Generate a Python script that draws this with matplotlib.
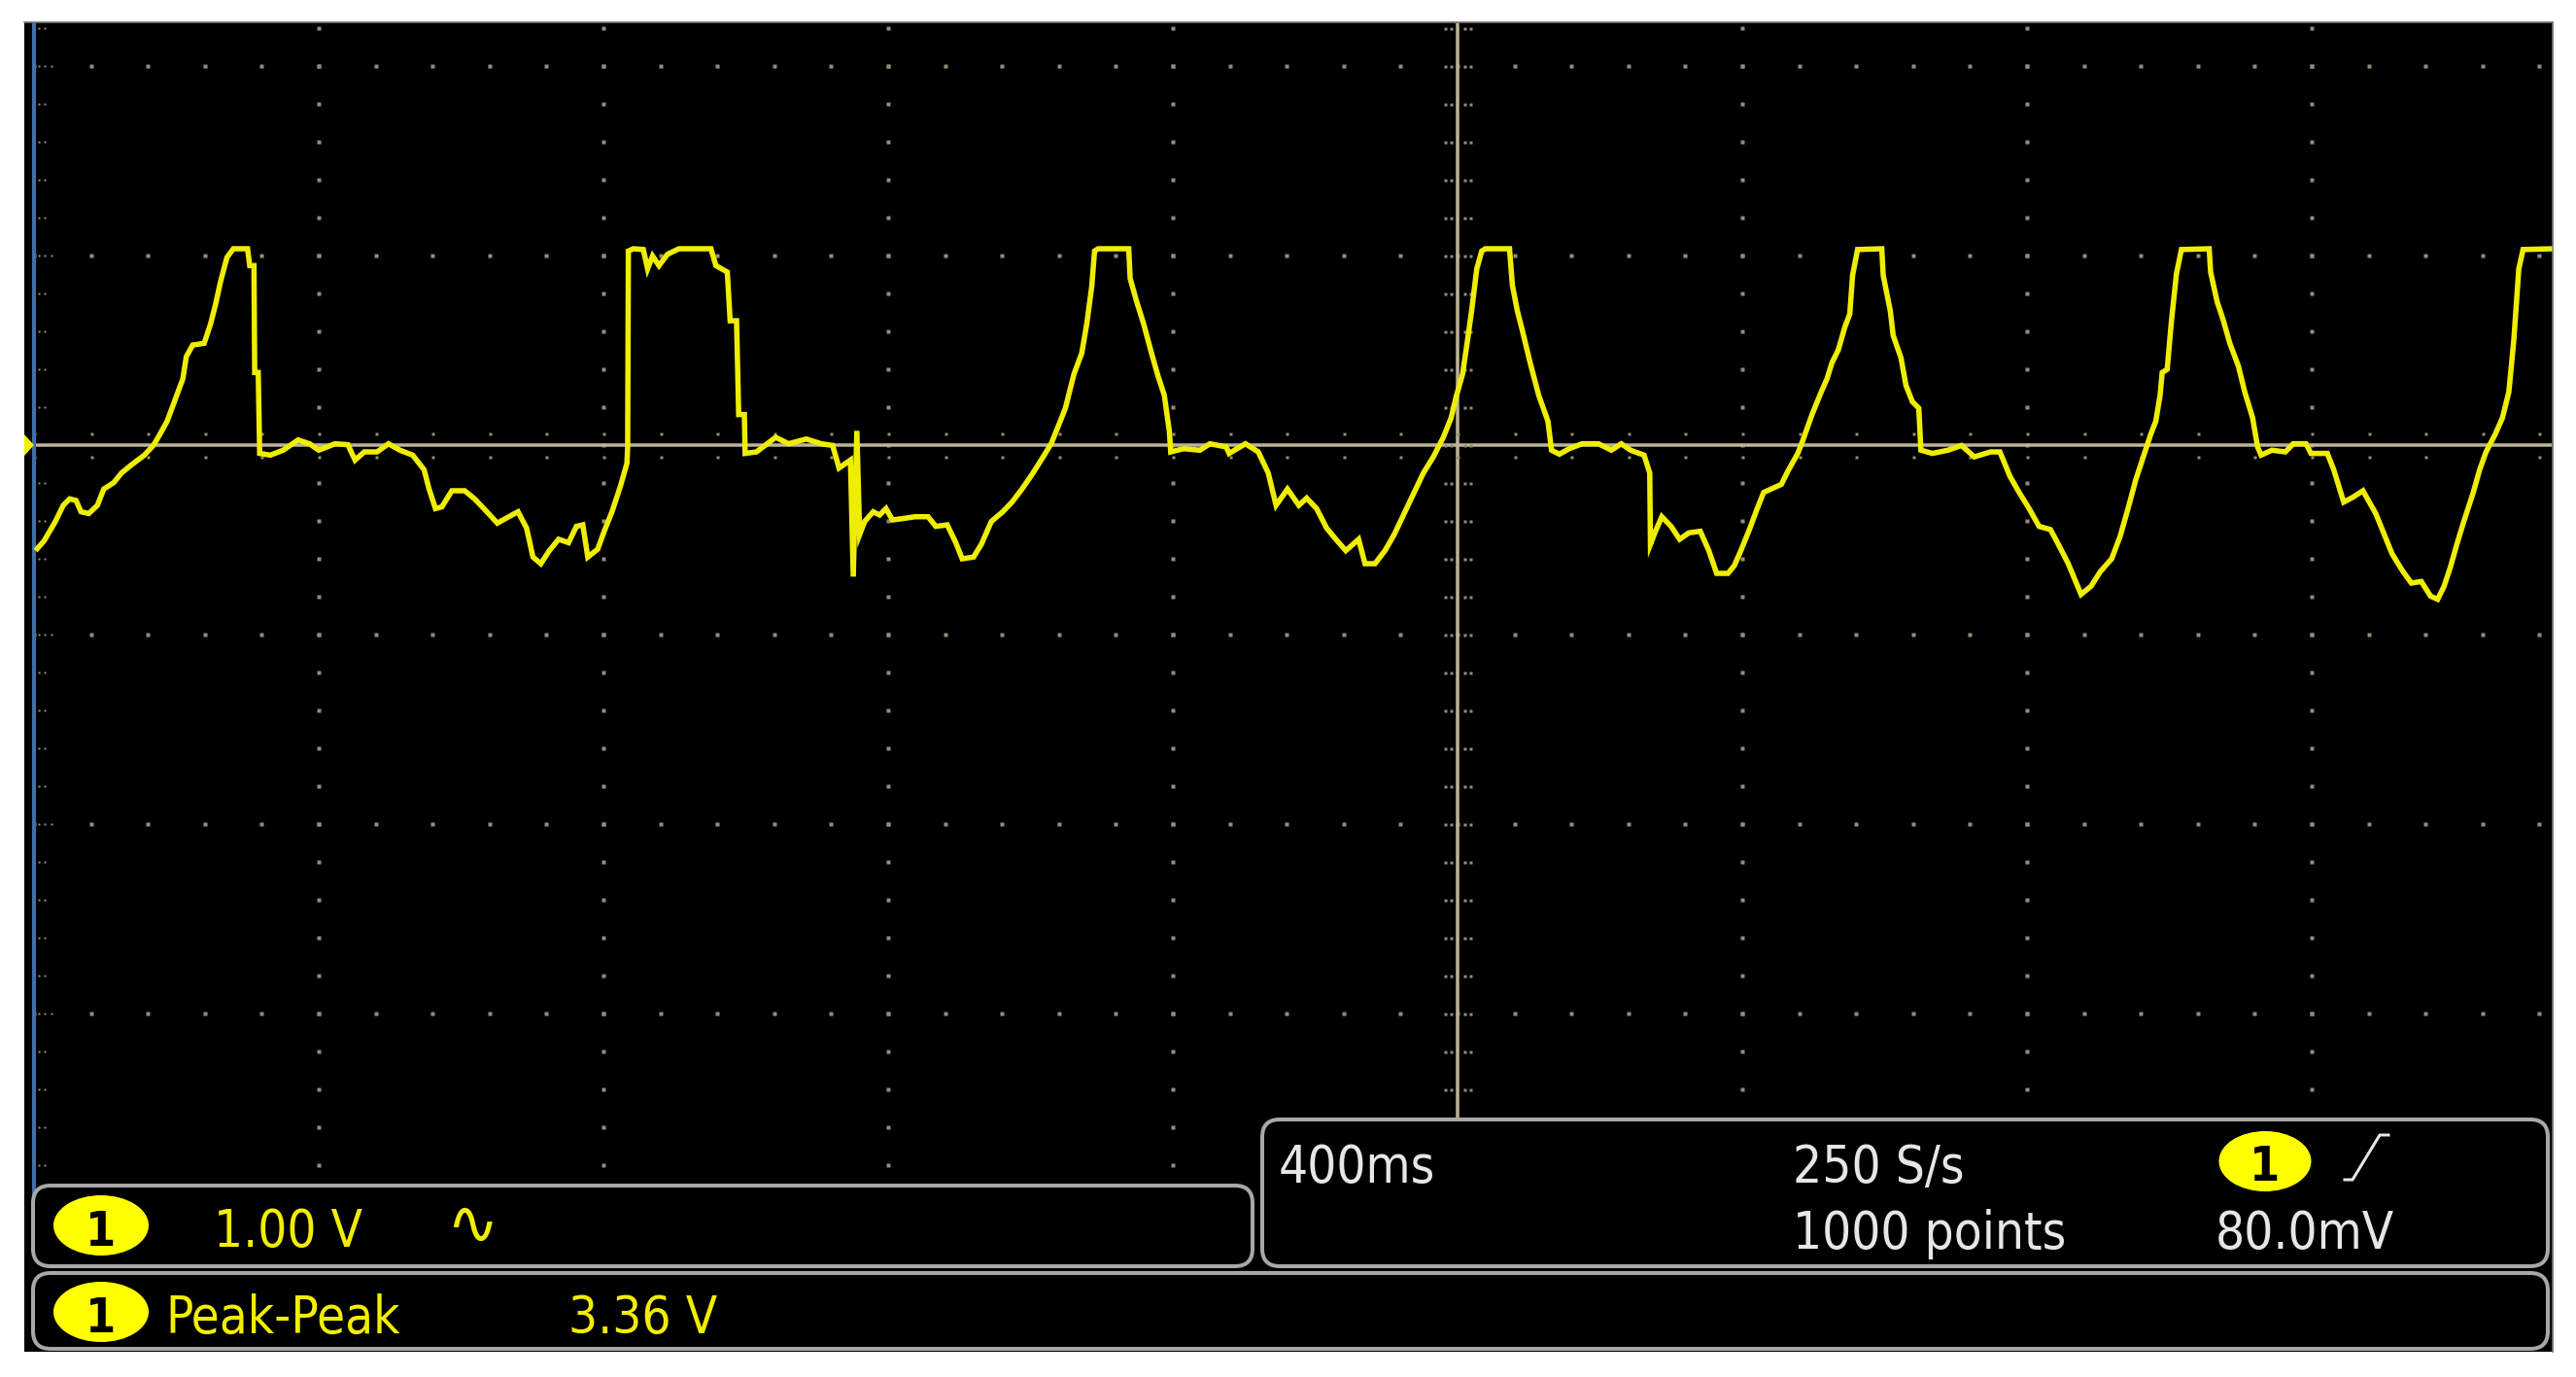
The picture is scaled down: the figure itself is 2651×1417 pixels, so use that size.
import matplotlib
matplotlib.use("Agg")
import matplotlib.pyplot as plt
import numpy as np
from matplotlib import font_manager as fm
from matplotlib.patches import FancyBboxPatch, Ellipse, Polygon

# ---------------- data ----------------
# channel 1 waveform: time relative to trigger (s) and voltage (V)
time_s = [
    -1.998, -1.986, -1.970, -1.959, -1.950, -1.941, -1.934, -1.923, -1.911, -1.902,
    -1.888, -1.877, -1.863, -1.845, -1.832, -1.823, -1.813, -1.802, -1.791, -1.786,
    -1.777, -1.761, -1.752, -1.745, -1.738, -1.729, -1.720, -1.700, -1.697, -1.691,
    -1.690, -1.685, -1.683, -1.668, -1.650, -1.629, -1.613, -1.600, -1.577, -1.559,
    -1.549, -1.536, -1.518, -1.502, -1.486, -1.468, -1.452, -1.445, -1.436, -1.427,
    -1.413,
    -1.395, -1.381, -1.368, -1.349, -1.333, -1.320, -1.308, -1.299, -1.288, -1.276,
    -1.263, -1.249, -1.238, -1.229, -1.222, -1.208, -1.199, -1.188, -1.176, -1.167,
    -1.166, -1.165, -1.158, -1.144, -1.138, -1.131, -1.122, -1.110, -1.094, -1.049,
    -1.042, -1.026, -1.022, -1.013, -1.010, -1.002, -1.001, -0.985, -0.958, -0.940,
    -0.915, -0.894, -0.878, -0.869, -0.853, -0.849, -0.844, -0.840, -0.833, -0.821,
    -0.812,
    -0.803, -0.794, -0.776, -0.762, -0.744, -0.733, -0.717, -0.705, -0.696, -0.680,
    -0.669, -0.655, -0.639, -0.626, -0.612, -0.598, -0.585, -0.571, -0.560, -0.551,
    -0.539, -0.528, -0.521, -0.514, -0.510, -0.505, -0.462, -0.460, -0.451, -0.441,
    -0.430, -0.421, -0.412, -0.405, -0.403, -0.385, -0.362, -0.348, -0.325, -0.321,
    -0.298, -0.280, -0.266, -0.255, -0.239, -0.223, -0.212,
    -0.198, -0.184, -0.171, -0.157, -0.139, -0.130, -0.116, -0.102, -0.089, -0.075,
    -0.061, -0.048, -0.034, -0.020, -0.009, -0.002, 0.007, 0.014, 0.020, 0.027,
    0.034, 0.039, 0.073, 0.077, 0.084, 0.091, 0.102, 0.114, 0.127, 0.132,
    0.143, 0.157, 0.175, 0.198, 0.216, 0.230, 0.243, 0.262, 0.270, 0.271,
    0.278, 0.287, 0.300, 0.312, 0.325, 0.341, 0.353, 0.364, 0.380, 0.389,
    0.398, 0.410, 0.421, 0.430, 0.455, 0.464, 0.478, 0.485, 0.498, 0.510,
    0.519, 0.526, 0.535, 0.544, 0.551, 0.555, 0.562, 0.596, 0.598, 0.608,
    0.612, 0.623, 0.630, 0.639, 0.648, 0.651, 0.667, 0.689, 0.708, 0.726,
    0.749, 0.762, 0.776, 0.789, 0.803, 0.817, 0.833, 0.844, 0.858, 0.876,
    0.890, 0.903, 0.919, 0.931, 0.942, 0.953, 0.965, 0.974, 0.981, 0.987,
    0.990,
    0.997, 1.003, 1.010, 1.017, 1.056, 1.058, 1.067, 1.076, 1.085, 1.097,
    1.106, 1.117, 1.124, 1.129, 1.144, 1.163, 1.174, 1.192, 1.199, 1.222,
    1.231, 1.245, 1.258, 1.272, 1.290, 1.302, 1.313, 1.327, 1.340, 1.354,
    1.367, 1.377, 1.386, 1.395, 1.404, 1.413, 1.427, 1.436, 1.445, 1.458,
    1.468, 1.477, 1.484, 1.491, 1.497, 1.538,
]
volts = [
    -0.557, -0.506, -0.403, -0.318, -0.284, -0.292, -0.352, -0.361, -0.318, -0.232,
    -0.198, -0.147, -0.104, -0.053, 0.000, 0.058, 0.126, 0.238, 0.349, 0.468,
    0.528, 0.537, 0.639, 0.742, 0.862, 0.990, 1.036, 1.036, 0.947, 0.947,
    0.383, 0.383, -0.044, -0.053, -0.027, 0.027, 0.007, -0.027, 0.007, 0.002,
    -0.079, -0.036, -0.036, 0.007, -0.027, -0.053, -0.130, -0.232, -0.335, -0.326,
    -0.241,
    -0.241, -0.284, -0.335, -0.412, -0.378, -0.352, -0.438, -0.591, -0.626, -0.557,
    -0.497, -0.515, -0.429, -0.421, -0.591, -0.549, -0.455, -0.352, -0.215, -0.096,
    -0.010, 1.024, 1.036, 1.032, 0.930, 0.998, 0.947, 1.007, 1.036, 1.036,
    0.947, 0.913, 0.656, 0.656, 0.161, 0.161, -0.044, -0.036, 0.041, 0.007,
    0.032, 0.007, -0.002, -0.121, -0.079, -0.694, 0.075, -0.472, -0.403, -0.352,
    -0.369,
    -0.335, -0.395, -0.386, -0.378, -0.378, -0.429, -0.421, -0.515, -0.600, -0.591,
    -0.523, -0.403, -0.352, -0.301, -0.232, -0.156, -0.079, 0.007, 0.109, 0.195,
    0.374, 0.485, 0.639, 0.836, 1.024, 1.036, 1.036, 0.879, 0.759, 0.639,
    0.485, 0.366, 0.263, 0.075, -0.036, -0.019, -0.027, 0.007, -0.010, -0.044,
    0.007, -0.036, -0.147, -0.318, -0.232, -0.318, -0.280,
    -0.335, -0.438, -0.497, -0.557, -0.497, -0.626, -0.626, -0.557, -0.472, -0.361,
    -0.250, -0.147, -0.062, 0.041, 0.144, 0.255, 0.374, 0.554, 0.716, 0.930,
    1.024, 1.036, 1.036, 0.844, 0.708, 0.605, 0.434, 0.263, 0.126, -0.027,
    -0.048, -0.019, 0.007, 0.007, -0.027, 0.007, -0.027, -0.053, -0.147, -0.523,
    -0.455, -0.378, -0.429, -0.497, -0.463, -0.455, -0.557, -0.677, -0.677, -0.635,
    -0.557, -0.446, -0.335, -0.250, -0.207, -0.138, -0.044, 0.024, 0.161, 0.272,
    0.349, 0.434, 0.503, 0.622, 0.691, 0.896, 1.032, 1.036, 0.896, 0.708,
    0.579, 0.460, 0.315, 0.229, 0.195, -0.027, -0.044, -0.027, -0.002, -0.062,
    -0.036, -0.036, -0.164, -0.250, -0.335, -0.429, -0.446, -0.523, -0.626, -0.788,
    -0.745, -0.668, -0.600, -0.480, -0.335, -0.181, -0.044, 0.058, 0.126, 0.263,
    0.383,
    0.400, 0.656, 0.904, 1.032, 1.036, 0.913, 0.759, 0.656, 0.537, 0.417,
    0.280, 0.144, -0.010, -0.053, -0.027, -0.036, 0.007, 0.007, -0.044, -0.044,
    -0.130, -0.301, -0.275, -0.241, -0.361, -0.472, -0.574, -0.660, -0.728, -0.720,
    -0.797, -0.814, -0.745, -0.643, -0.523, -0.412, -0.250, -0.130, -0.036, 0.058,
    0.144, 0.280, 0.554, 0.930, 1.032, 1.036,
]

# scope settings / readouts
volts_per_div = 1.00
sec_per_div = 0.4
channel_label = "1"
channel_scale_text = "1.00 V"
bandwidth_symbol = "\u223F"
measurement_name = "Peak-Peak"
measurement_value = "3.36 V"
timebase_text = "400ms"
sample_rate_text = "250 S/s"
record_length_text = "1000 points"
trigger_level_text = "80.0mV"

# ---------------- figure ----------------
W, H = 2651, 1417
DPI = 100
fig = plt.figure(figsize=(W / DPI, H / DPI), dpi=DPI, facecolor="white")

# screen area in pixels (left, top, right, bottom)
SL, ST, SR, SB = 25, 23, 2627, 1391
# screen data limits (time from trigger, volts)
T_LEFT, T_RIGHT = -2.0137, 1.5386
V_TOP, V_BOT = 2.2308, -4.7846

ax = fig.add_axes([SL / W, 1 - SB / H, (SR - SL) / W, (SB - ST) / H])
ax.set_facecolor("black")
ax.set_xlim(T_LEFT, T_RIGHT)
ax.set_ylim(V_BOT, V_TOP)
ax.set_xticks([])
ax.set_yticks([])
for side in ("left", "bottom"):
    ax.spines[side].set_visible(False)
for side in ("top", "right"):
    ax.spines[side].set_color("#707070")
    ax.spines[side].set_linewidth(1.2)

GRID = "#948d78"
CENTER = "#bdb39b"
px = 0.72  # points per pixel at 100 dpi

# graticule
minor_t = np.round(np.arange(-2.0, 1.53, sec_per_div / 5), 4)
minor_v = np.round(np.arange(-4.8, 2.21, volts_per_div / 5), 4)
major_t = [-1.6, -1.2, -0.8, -0.4, 0.4, 0.8, 1.2]
major_v = [2.0, 1.0, -1.0, -2.0, -3.0, -4.0]

for t in major_t:
    ax.plot(np.full_like(minor_v, t), minor_v, ls="none", marker="s",
            ms=3.5 * px, mfc=GRID, mec="none", zorder=1)
for v in major_v:
    ax.plot(minor_t, np.full_like(minor_t, v), ls="none", marker="s",
            ms=3.5 * px, mfc=GRID, mec="none", zorder=1)

# left edge tick marks
dt_px = sec_per_div / 293.0
dv_px = volts_per_div / 195.0
for off in (5, 11):
    ax.plot(np.full_like(minor_v, -2.0 + off * dt_px), minor_v, ls="none",
            marker="s", ms=2.5 * px, mfc=GRID, mec="none", zorder=1)
ax.plot(np.full(len(major_v), -2.0 + 18 * dt_px), major_v, ls="none",
        marker="s", ms=2.5 * px, mfc=GRID, mec="none", zorder=1)

# centre cross-hair
ax.axhline(0, color=CENTER, lw=3.5 * px, zorder=2)
ax.plot([0, 0], [V_TOP, (458 - 1152) * dv_px], color=CENTER, lw=3.5 * px, zorder=2)
for s in (-1, 1):
    ax.plot(minor_t, np.full_like(minor_t, s * 12 * dv_px), ls="none", marker="s",
            ms=3 * px, mfc=GRID, mec="none", zorder=2)
    for off in (7, 13):
        vv = minor_v[minor_v > (458 - 1152) * dv_px]
        ax.plot(np.full_like(vv, s * off * dt_px), vv, ls="none", marker="s",
                ms=3 * px, mfc=GRID, mec="none", zorder=2)

# blue left border line
ax.plot([-2.0, -2.0], [V_TOP, (458 - 1233) * dv_px], color="#3f70a8",
        lw=4 * px, zorder=3, solid_capstyle="butt")

# ground-level marker for channel 1
ax.add_patch(Polygon([[T_LEFT, 11 * dv_px], [T_LEFT, -11 * dv_px],
                      [T_LEFT + 10 * dt_px, 0]], closed=True,
                     facecolor="#f2f000", edgecolor="none", zorder=4))

# waveform
ax.plot(time_s, volts, color="#f0ee00", lw=5.5 * px, zorder=5,
        solid_joinstyle="miter", solid_capstyle="butt")

# ---------------- readout panels (overlay in pixel coordinates) ----------------
ov = fig.add_axes([0, 0, 1, 1])
ov.set_xlim(0, W)
ov.set_ylim(H, 0)
ov.axis("off")
ov.patch.set_alpha(0)

names = {f.name for f in fm.fontManager.ttflist}
if "Liberation Sans Narrow" in names:
    FONT, FS, STRETCH = ["Liberation Sans Narrow", "DejaVu Sans"], 44, "normal"
else:
    cond = any(f.name == "DejaVu Sans" and f.stretch == "condensed"
               for f in fm.fontManager.ttflist)
    if cond:
        FONT, FS, STRETCH = ["DejaVu Sans"], 38, "condensed"
    else:
        FONT, FS, STRETCH = ["Liberation Sans", "DejaVu Sans"], 37, "normal"

EDGE = "#a8a8a8"
YEL = "#f2ee00"
WHITE = "#e6e6e6"


def panel(x0, y0, x1, y1):
    ov.add_patch(FancyBboxPatch((x0, y0), x1 - x0, y1 - y0,
                                boxstyle="round,pad=0,rounding_size=18",
                                facecolor="black", edgecolor=EDGE,
                                lw=4 * px, zorder=1))


panel(34, 1220, 1289, 1303)
panel(1299, 1152, 2622, 1303)
panel(34, 1310, 2622, 1388)


def badge(cx, cy, w, h, baseline):
    ov.add_patch(Ellipse((cx, cy), w, h, facecolor="#ffff00",
                         edgecolor="none", zorder=2))
    ov.text(cx, baseline, channel_label, ha="center", va="baseline",
            color="black", fontsize=FS * 0.95, fontweight="bold",
            family=FONT, fontstretch=STRETCH, zorder=3)


def label(x, baseline, s, color):
    ov.text(x, baseline, s, ha="left", va="baseline", color=color,
            fontsize=FS, family=FONT, fontstretch=STRETCH, zorder=3)


# channel panel
badge(104, 1261, 98, 62, 1282)
label(220, 1283, channel_scale_text, YEL)
ov.text(486, 1262, bandwidth_symbol, ha="center", va="center", color=YEL,
        fontsize=46, family=["DejaVu Sans"], zorder=3)

# measurement panel
badge(104, 1350, 98, 62, 1371)
label(170, 1372, measurement_name, YEL)
label(585, 1372, measurement_value, YEL)

# timebase / trigger panel
label(1316, 1217, timebase_text, WHITE)
label(1845, 1217, sample_rate_text, WHITE)
label(1845, 1285, record_length_text, WHITE)
badge(2331, 1195, 95, 62, 1215)
ov.plot([2413, 2421, 2449, 2458], [1214, 1214, 1168, 1168], color=WHITE,
        lw=3 * px, zorder=3)
label(2280, 1285, trigger_level_text, WHITE)

fig.savefig("out.png", dpi=DPI, facecolor="white")
